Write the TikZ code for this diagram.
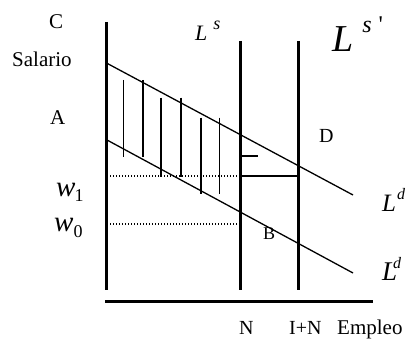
\documentclass[tikz,border=0pt]{standalone}
\usepackage{fontspec}
\setmainfont{Liberation Serif}
\usetikzlibrary{positioning}
\newcommand{\fsz}[1]{\fontsize{#1}{#1}\selectfont}

\begin{document}
\begin{tikzpicture}[
  x=1pt, y=-1pt,
  lbl/.style={anchor=base west, inner sep=0pt},
  axis/.style={line width=3pt},
  wall/.style={line width=3pt},
  demand/.style={line width=1.3pt},
  hatch/.style={line width=1.6pt},
  dots/.style={line width=1.3pt, dash pattern=on 1.3pt off 1.7pt}
]
\useasboundingbox (0,0) rectangle (420,347);
%% axes
\coordinate (o_top)   at (106.7, 22);
\coordinate (o_bot)   at (106.7, 290);
\coordinate (x_left)  at (105, 301.7);
\coordinate (x_right) at (373, 301.7);
\draw[axis] (o_top) -- (o_bot);
\draw[axis] (x_left) -- (x_right);
%% labour supply walls
\coordinate (n_top)  at (240.7, 41);
\coordinate (n_bot)  at (240.7, 290);
\coordinate (in_top) at (298.5, 41);
\coordinate (in_bot) at (298.5, 290);
\draw[wall] (n_top) -- (n_bot);
\draw[wall] (in_top) -- (in_bot);
%% demand lines
\coordinate (ld1_a) at (107, 63.3);
\coordinate (ld1_b) at (353, 195);
\coordinate (ld0_a) at (107, 140);
\coordinate (ld0_b) at (353, 273);
\draw[demand] (ld1_a) -- (ld1_b);
\draw[demand] (ld0_a) -- (ld0_b);
%% hatching between the demand lines
\foreach \hx/\ht/\hb in {123.3/80/157, 142.7/80/157, 161/97.7/176.7,
                         181/97.7/176.7, 201/117.7/194, 219.3/117.7/194}
  \draw[hatch] (\hx,\ht) -- (\hx,\hb);
%% wage levels
\coordinate (w1_l)  at (110, 176);
\coordinate (w1_n)  at (240.7, 176);
\coordinate (w1_in) at (298.5, 176);
\coordinate (w0_l)  at (110, 224);
\coordinate (w0_n)  at (240.7, 224);
\draw[dots] (w1_l) -- (w1_n);
\draw[line width=1.5pt] (w1_n) -- (w1_in);
\draw[dots] (w0_l) -- (w0_n);
\coordinate (tick_a) at (240.7, 156);
\coordinate (tick_b) at (258, 156);
\draw[line width=1.5pt] (tick_a) -- (tick_b);
%% labels
\node[lbl, font=\fsz{21}] (c_lbl)   at (49, 29)   {C};
\node[lbl, font=\fsz{21}] (sal_lbl) at (12, 67)   {Salario};
\node[lbl, font=\fsz{21}] (a_lbl)   at (50, 125)  {A};
\node[lbl, font=\fsz{20}] (d_lbl)   at (319, 143) {D};
\node[lbl, font=\fsz{18}] (b_lbl)   at (263, 240) {B};
\node[lbl, font=\fsz{22}] (ls_lbl)  at (195, 41)
  {\textit{L}\hspace{6pt}\raisebox{11pt}{\fsz{18}\textit{s}}};
\node[lbl, font=\fsz{38}] (ls2_lbl) at (332, 52)
  {\textit{L}\hspace{9pt}\raisebox{19pt}{\fsz{24}\textit{s}\hspace{7pt}\textquotesingle}};
\node[lbl, font=\fsz{25}] (ld1_lbl) at (382, 212)
  {\textit{L}\hspace{1pt}\raisebox{12pt}{\fsz{16}\textit{d}}};
\node[lbl, font=\fsz{27}] (ld0_lbl) at (382, 280)
  {\textit{L}\hspace{-4pt}\raisebox{12pt}{\fsz{16}\textit{d}}};
\node[lbl, font=\fsz{29}] (w1_lbl)  at (56, 197)
  {\textit{w}\hspace{-1pt}\raisebox{-5pt}{\fsz{18}1}};
\node[lbl, font=\fsz{29}] (w0_lbl)  at (54, 232)
  {\textit{w}\hspace{0pt}\raisebox{-6pt}{\fsz{18}0}};
\node[lbl, font=\fsz{20}] (n_lbl)   at (239, 334) {N};
\node[lbl, font=\fsz{20}] (in_lbl)  at (289, 334) {I+N};
\node[lbl, font=\fsz{21}] (emp_lbl) at (337, 334) {Empleo};
\end{tikzpicture}
\end{document}
